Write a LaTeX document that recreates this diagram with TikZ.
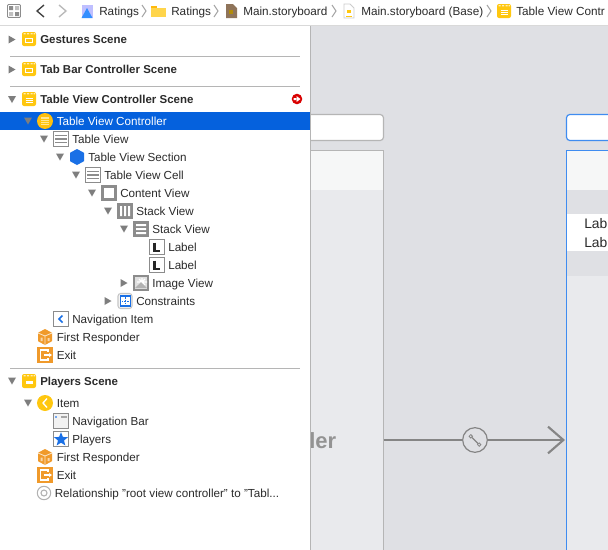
\documentclass[tikz,border=0pt]{standalone}
\usepackage{fontspec}
\setmainfont{Liberation Sans}
\usetikzlibrary{arrows.meta,shapes.geometric}
\definecolor{canvas}{HTML}{DFE0E4}
\definecolor{scenebg}{HTML}{E9EAED}
\definecolor{headbg}{HTML}{F6F7F7}
\definecolor{sel}{HTML}{0561DD}
\definecolor{yel}{HTML}{FFC70F}
\definecolor{org}{HTML}{F09A2B}
\definecolor{blu}{HTML}{1A70E6}
\definecolor{gry}{HTML}{8C8C8C}
\definecolor{tri}{HTML}{7E7E7E}
\definecolor{sep}{HTML}{B5B5B5}
\definecolor{ink}{HTML}{2B2B2B}
\definecolor{boxblue}{HTML}{3F8CF0}
\definecolor{seg}{HTML}{858585}
\tikzset{
  rowtext/.style={anchor=base west,inner sep=0pt,text=ink,font=\fontsize{8.75pt}{10pt}\selectfont},
  scenetext/.style={rowtext,font=\fontsize{8.6pt}{10pt}\selectfont\bfseries},
  crumb/.style={rowtext,font=\fontsize{8.8pt}{10pt}\selectfont},
  sepline/.style={draw=sep,line width=0.8pt},
  chev/.style={draw=#1,line width=0.8pt,line join=miter},
  chev/.default=gray!70,
}
% triangles
\newcommand{\tdown}[2]{\fill[tri] (#1-4,#2-3.5) -- (#1+4,#2-3.5) -- (#1,#2+3.5) -- cycle;}
\newcommand{\tright}[2]{\fill[tri] (#1-3.5,#2-4) -- (#1-3.5,#2+4) -- (#1+3.5,#2) -- cycle;}
% scene icon; #3 inner kind 0 box, 1 lines, 2 plain
\newcommand{\sceneicon}[3]{\begin{scope}[shift={(#1,#2)}]
  \fill[yel,rounded corners=1.5] (-7,-7) rectangle (7,7);
  \fill[white!70!yel] (-5.5,-5.8) rectangle (-3.5,-4.6) (-2,-5.8) rectangle (0,-4.6) (1.5,-5.8) rectangle (3.5,-4.6) (4.7,-5.8) rectangle (6,-4.6);
  \ifnum#3=0 \draw[white,line width=0.7pt] (-3.5,-1) rectangle (3.5,3); \fi
  \ifnum#3=1 \draw[white,line width=0.6pt] (-3.5,-1) -- (3.5,-1) (-3.5,1) -- (3.5,1) (-3.5,3) -- (3.5,3); \fi
  \ifnum#3=2 \fill[white] (-3.5,-0.5) rectangle (3.5,3) ; \fi
\end{scope}}
\newcommand{\tableicon}[2]{\begin{scope}[shift={(#1,#2)}]
  \fill[white] (-8,-7.5) rectangle (8,7.5);
  \draw[gry,line width=0.9pt] (-7.5,-7.2) rectangle (7.5,7.2);
  \draw[gry,line width=1pt] (-6,-3.6) -- (6,-3.6) (-6,0) -- (6,0) (-6,3.6) -- (6,3.6);
\end{scope}}
\newcommand{\grayicon}[2]{\fill[gry] (#1-8,#2-8) rectangle (#1+8,#2+8);}
\newcommand{\labelicon}[2]{\begin{scope}[shift={(#1,#2)}]
  \draw[gry,fill=white,line width=0.8pt] (-7.5,-7.5) rectangle (7.5,7.5);
  \draw[black!85,line width=1.6pt] (-2.5,-4.5) -- (-2.5,4) -- (3,4);
\end{scope}}
\newcommand{\hexicon}[4]{\fill[#3] (#1,#2-8) -- (#1+#4,#2-4.2) -- (#1+#4,#2+4.2) -- (#1,#2+8) -- (#1-#4,#2+4.2) -- (#1-#4,#2-4.2) -- cycle;}
\newcommand{\responder}[2]{\hexicon{#1}{#2}{org}{7}
  \draw[white!75!org,line width=0.6pt] (#1,#2-1) -- (#1,#2+8) (#1-7,#2-4) -- (#1,#2-1) -- (#1+7,#2-4);
  \fill[white!60!org] (#1-4.5,#2+0.5) rectangle (#1-2.5,#2+4) (#1+2.5,#2+1) rectangle (#1+4.5,#2+4);}
\newcommand{\exiticon}[2]{\begin{scope}[shift={(#1,#2)}]
  \fill[org] (-8,-8) rectangle (8,8);
  \draw[white,line width=1pt] (3,-3) -- (3,-5) -- (-4.5,-5) -- (-4.5,5) -- (3,5) -- (3,3);
  \draw[white,line width=1pt] (-1,0) -- (5,0);
  \fill[white] (4,-2) -- (7,0) -- (4,2) -- cycle;
\end{scope}}
\begin{document}
\begin{tikzpicture}[x=0.75pt,y=-0.75pt]
\useasboundingbox (0,0) rectangle (608,550);
\clip (0,0) rectangle (608,550);
% canvas
\fill[canvas] (0,0) rectangle (608,550);
% left scene
\fill[scenebg] (310,150) rectangle (383,550);
\fill[headbg] (310,151) rectangle (383,190);
\draw[sep,line width=0.7pt] (310,150.5) -- (383.5,150.5) -- (383.5,550);
\node[anchor=base east,inner sep=0pt,text=gray!85,font=\fontsize{16.5pt}{18pt}\selectfont\bfseries] (lertext) at (336.5,448) {ler};
% top bars of scenes
\draw[sep,fill=white,line width=0.9pt,rounded corners=2.5] (300,114.5) rectangle (383.5,140.5);
\draw[boxblue,fill=white,line width=0.9pt,rounded corners=2.5] (566.5,114.5) rectangle (620,140.5);
% right scene
\fill[scenebg] (566,150) rectangle (608,550);
\fill[canvas] (567,190) rectangle (608,276);
\fill[headbg] (567,151) rectangle (608,190);
\fill[white] (567,214) rectangle (608,251);
\draw[boxblue,line width=0.8pt] (620,150.5) -- (566.5,150.5) -- (566.5,550);
\node[rowtext,text=ink,font=\fontsize{10.4pt}{12pt}\selectfont] (lab1) at (584,228) {Lab};
\node[rowtext,text=ink,font=\fontsize{10.4pt}{12pt}\selectfont] (lab2) at (584,247) {Lab};
% connector
\node[circle,draw=seg,line width=0.9pt,minimum size=18.5pt,inner sep=0pt,fill=canvas] (segue) at (475,440) {};
\coordinate (segstart) at (383.5,440);
\coordinate (segend) at (565,440);
\draw[seg,line width=1.6pt] (segstart) -- (segue);
\draw[seg,line width=1.6pt,-{Straight Barb[length=11.5pt,width=20pt]}] (segue) -- (segend);
\draw[seg,line width=0.9pt] (472,437.5) -- (478,443.5);
\draw[seg,line width=0.6pt,fill=canvas] (470.8,436.3) circle (1.7) (479.2,444.6) circle (1.7);
% navigator panel
\fill[white] (0,25) rectangle (310,550);
\draw[sep,line width=0.8pt] (310.5,25) -- (310.5,550);
% breadcrumb bar
\fill[white] (0,0) rectangle (608,25);
\draw[gray!30,line width=0.8pt] (0,25.5) -- (608,25.5);
% grid
\begin{scope}[shift={(14,11)}]
  \draw[gray!90,line width=0.7pt,rounded corners=0.8] (-6.5,-6.5) rectangle (6.5,6.5);
  \fill[gray!90] (-5,-5) rectangle (-1,-1) (1,1) rectangle (5,5);
  \fill[gray!50] (1,-5) rectangle (5,-1) (-5,1) rectangle (-1,5);
\end{scope}
\draw[black!75,line width=1pt] (44,5) -- (37,11) -- (44,17);
\draw[gray!55,line width=1pt] (59,5) -- (66,11) -- (59,17);
% project icon
\fill[blue!25!white] (82,5) rectangle (93,18);
\fill[blue!55!cyan!80!white] (81.5,18) -- (87,8) -- (92.5,18) -- cycle;
\node[crumb] (c1) at (99,15) {Ratings};
\draw[chev] (142,5) -- (146,11) -- (142,17);
% folder
\fill[yel!80!orange] (151,6) rectangle (157,9);
\fill[yel!75!white] (151,8) rectangle (166,17);
\node[crumb] (c2) at (171,15) {Ratings};
\draw[chev] (214,5) -- (218,11) -- (214,17);
% storyboard
\fill[brown!55!black!75] (226,4) -- (233,4) -- (237,8) -- (237,18) -- (226,18) -- cycle;
\fill[yel!70!black] (229,10) rectangle (233,14);
\node[crumb] (c3) at (243,15) {Main.storyboard};
\draw[chev] (332,5) -- (336,11) -- (332,17);
% file base
\draw[gray!40,fill=white,line width=0.6pt] (344,4) -- (350,4) -- (354,8) -- (354,18) -- (344,18) -- cycle;
\fill[yel] (347,10) rectangle (351,13);
\draw[yel,line width=0.6pt] (346,16) -- (352,16);
\node[crumb] (c4) at (361,15) {Main.storyboard (Base)};
\draw[chev] (487,5) -- (491,11) -- (487,17);
\sceneicon{504}{11}{1}
\node[crumb] (c5) at (516,15) {Table View Contr};
% separators
\draw[sepline] (10,56.5) -- (300,56.5);
\draw[sepline] (10,86.5) -- (300,86.5);
\draw[sepline] (10,368.5) -- (300,368.5);
% selection
\fill[sel] (0,112) rectangle (310,130);
% scene rows
\tright{12}{39.5} \sceneicon{29}{39}{0}
\node[scenetext] (gest) at (40,43) {Gestures Scene};
\tright{12}{69.5} \sceneicon{29}{69}{0}
\node[scenetext] (tabbar) at (40,73) {Tab Bar Controller Scene};
\tdown{12}{99.5} \sceneicon{29}{99}{1}
\node[scenetext] (tvcs) at (40,103) {Table View Controller Scene};
% red warning
\fill[red!85!black] (297,99) circle (5.3);
\fill[white] (293.5,98) rectangle (297,100) (296.5,96) -- (300.5,99) -- (296.5,102) -- cycle;
% TVC
\tdown{28}{121}
\fill[yel!90!orange] (45,121) circle (8);
\fill[white!55!yel] (41,117) rectangle (49,125);
\draw[yel,line width=0.5pt] (41,119) -- (49,119) (41,121) -- (49,121) (41,123) -- (49,123);
\node[rowtext,text=white] (tvc) at (56.5,125) {Table View Controller};
% Table View
\tdown{44}{139} \tableicon{61}{139}
\node[rowtext] (tv) at (72,143) {Table View};
% Section
\tdown{60}{157} \hexicon{77}{157}{blu}{7}
\node[rowtext] (tvs) at (88,161) {Table View Section};
% Cell
\tdown{76}{175} \tableicon{93}{175}
\node[rowtext] (tvcell) at (104,179) {Table View Cell};
% Content view
\tdown{92}{193} \grayicon{109}{193}
\fill[white] (104,188) rectangle (114,198);
\node[rowtext] (cv) at (120,197) {Content View};
% Stack H
\tdown{108}{211} \grayicon{125}{211}
\fill[white] (120,206) rectangle (122,216) (124,206) rectangle (126,216) (128,206) rectangle (130,216);
\node[rowtext] (sv1) at (136,215) {Stack View};
% Stack V
\tdown{124}{229} \grayicon{141}{229}
\fill[white] (136,224) rectangle (146,226) (136,228) rectangle (146,230) (136,232) rectangle (146,234);
\node[rowtext] (sv2) at (152,233) {Stack View};
% Labels
\labelicon{157}{247}
\node[rowtext] (l1) at (168,251) {Label};
\labelicon{157}{265}
\node[rowtext] (l2) at (168,269) {Label};
% Image view
\tright{124}{283}
\draw[gry,fill=gray!25,line width=1.2pt] (134,276) rectangle (148,290);
\draw[white,line width=0.8pt] (142,278) -- (142,287) (137,282) -- (147,282) (139,279) -- (145,285) (145,279) -- (139,285);
\fill[gray!60] (135,288) -- (141,282) -- (147,288) -- cycle;
\node[rowtext] (iv) at (152,287) {Image View};
% Constraints
\tright{108}{301}
\draw[gray!45,fill=gray!8,line width=0.8pt,rounded corners=2] (118,293.5) rectangle (132,308.5);
\draw[blu,fill=white,line width=0.8pt] (120.5,296) rectangle (130.5,306);
\draw[blu,line width=0.6pt,dash pattern=on 1.2pt off 1pt] (125.5,297) -- (125.5,305) (121.5,301) -- (129.5,301);
\node[rowtext] (cons) at (136,305) {Constraints};
% Navigation item
\draw[gry,fill=white,line width=0.8pt] (53.5,311.5) rectangle (68.5,326.5);
\draw[blu,line width=1.1pt] (62.5,315.5) -- (59,319) -- (62.5,322.5);
\node[rowtext] (ni) at (72,323) {Navigation Item};
% First responder, Exit
\responder{45}{337}
\node[rowtext] (fr1) at (56.5,341) {First Responder};
\exiticon{45}{355}
\node[rowtext] (ex1) at (56.5,359) {Exit};
% Players scene
\tdown{12}{381} \sceneicon{29}{381}{2}
\node[scenetext] (ps) at (40,385) {Players Scene};
% Item
\tdown{28}{403}
\fill[yel] (45,403) circle (8);
\draw[white,line width=1pt] (47,398.5) -- (43,403) -- (47,407.5);
\node[rowtext] (item) at (56.5,407) {Item};
% Navigation Bar
\draw[gry,fill=gray!10,line width=0.8pt] (53.5,413.5) rectangle (68.5,428.5);
\fill[blu!60!white] (55,416) rectangle (57,417.5);
\fill[gray!70] (61,416) rectangle (67,417.5);
\node[rowtext] (nb) at (72,425) {Navigation Bar};
% Players tab
\draw[gry,fill=white,line width=0.8pt] (53.5,431.5) rectangle (68.5,446.5);
\node[star,star points=5,star point ratio=2.3,fill=blu,inner sep=0pt,minimum size=11pt] (startab) at (61,439.5) {};
\node[rowtext] (pl) at (72,443) {Players};
% First responder, Exit
\responder{45}{457}
\node[rowtext] (fr2) at (56.5,461) {First Responder};
\exiticon{45}{475}
\node[rowtext] (ex2) at (56.5,479) {Exit};
% Relationship
\draw[gray!60,line width=0.8pt] (44,493) circle (6.7) (44,493) circle (3);
\node[rowtext] (rel) at (54.5,497) {Relationship "root view controller" to "Tabl...};
\end{tikzpicture}
\end{document}
